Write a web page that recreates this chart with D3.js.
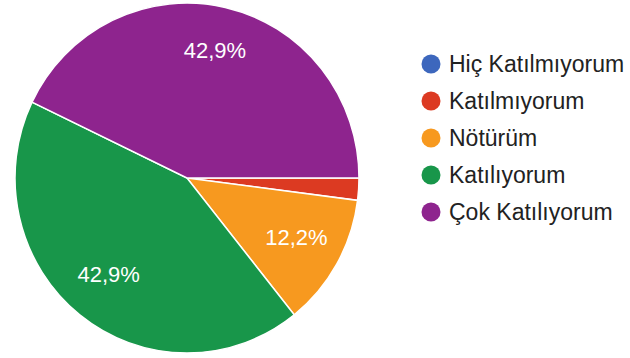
<!DOCTYPE html>
<html><head><meta charset="utf-8">
<script src="https://cdn.jsdelivr.net/npm/d3@7"></script>
<style>body{margin:0;background:#fff}svg{display:block}</style>
</head><body>
<svg id="c" width="630" height="358"></svg>
<script>
const categories = ["Hiç Katılmıyorum", "Katılmıyorum", "Nötürüm", "Katılıyorum", "Çok Katılıyorum"];
const counts = [0, 1, 6, 21, 21];
const colors = ["#3d67bd", "#dc3a22", "#f7991f", "#18964a", "#8e248e"];

const svg = d3.select("#c");
const cx = 187, cy = 178, r = 172, sy = 175 / 172;
const total = d3.sum(counts);
const color = d3.scaleOrdinal().domain(categories).range(colors);

const pie = d3.pie().sort(null).value(d => d.v)
  .startAngle(Math.PI / 2).endAngle(Math.PI / 2 + 2 * Math.PI);
const data = categories.map((c, i) => ({ c, v: counts[i] }));
const arcs = pie(data);
const arc = d3.arc().innerRadius(0).outerRadius(r);
const labelArc = d3.arc().innerRadius(r * 0.73).outerRadius(r * 0.73);

const g = svg.append("g").attr("transform", `translate(${cx},${cy}) scale(1,${sy})`);
g.selectAll("path").data(arcs.filter(a => a.data.v > 0)).join("path")
  .attr("d", arc).attr("fill", d => color(d.data.c))
  .attr("stroke", "#fff").attr("stroke-width", 1.5);

const fmt = v => (v / total * 100).toFixed(1).replace(".", ",") + "%";
const lg = svg.append("g").attr("transform", `translate(${cx},${cy})`);
lg.selectAll("text").data(arcs.filter(a => a.data.v / total > 0.05)).join("text")
  .attr("x", d => labelArc.centroid(d)[0])
  .attr("y", d => labelArc.centroid(d)[1] * sy - 3)
  .attr("text-anchor", "middle").attr("dominant-baseline", "central")
  .attr("fill", "#fff").attr("font-family", "Liberation Sans, Arial, sans-serif")
  .attr("font-size", 22).text(d => fmt(d.data.v));

const legend = svg.append("g");
const ly = d3.scalePoint().domain(categories).range([64, 212]);
const items = legend.selectAll("g").data(categories).join("g")
  .attr("transform", d => `translate(431,${ly(d)})`);
items.append("circle").attr("r", 9.5).attr("fill", d => color(d));
items.append("text").attr("x", 18).attr("dominant-baseline", "central")
  .attr("font-family", "Liberation Sans, Arial, sans-serif").attr("font-size", 23)
  .attr("fill", "#222").text(d => d);
</script>
</body></html>
